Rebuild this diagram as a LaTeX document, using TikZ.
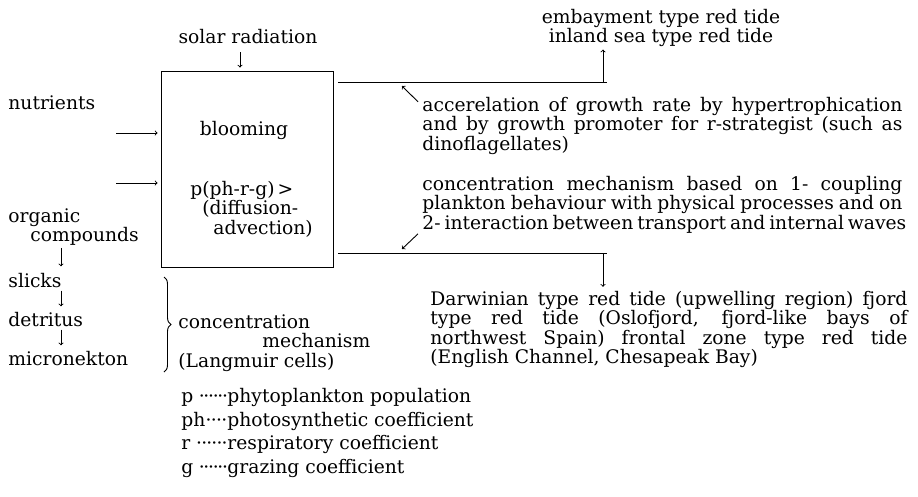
\documentclass[tikz,border=0pt]{standalone}
\usepackage{tikz}
\usepackage{fontspec}
\setmainfont{DejaVu Serif}
\usetikzlibrary{decorations.pathreplacing}
\newcommand{\jline}[2][480pt]{\makebox[#1][s]{#2}}
\newcommand{\legfill}{\xleaders\hbox to 4.5pt{\hss\textperiodcentered\hss}\hfill}
\newcommand{\legline}[2]{\hbox to 46pt{#1\legfill}#2}
\newcommand{\tightlines}{\setlength{\lineskiplimit}{-50pt}}

\begin{document}
\begin{tikzpicture}[x=1pt,y=-1pt,>=to,line width=0.9pt,
  every node/.style={inner sep=0pt,font={\fontsize{18.7}{19.5}\selectfont\tightlines}}]
\useasboundingbox (0,0) rectangle (918,496);
% central box
\node[draw,minimum width=172pt,minimum height=196pt] (box) at (247,169) {};
\node (bloom) at (244,135)[anchor=base]{blooming};
\node (rate) at (190,180.8)[anchor=north west,align=left]{p(ph-r-g)\,>\\\hspace*{12pt}(diffusion-\\\hspace*{23pt}advection)};
% inputs
\node (solar) at (248,43)[anchor=base]{solar radiation};
\coordinate (sr) at (240,52);
\draw[->,shorten >=3pt] (sr) -- (sr |- box.north);
\node (nutr) at (8,109)[anchor=base west]{nutrients};
\node (org) at (8,207.8)[anchor=north west,align=left]{organic\\\hspace*{22pt}compounds};
\coordinate (in1) at (116,133);
\coordinate (in2) at (116,183);
\draw[->,shorten >=3pt] (in1) -- (in1 -| box.west);
\draw[->,shorten >=3pt] (in2) -- (in2 -| box.west);
% left chain
\node (slicks) at (8,287)[anchor=base west]{slicks};
\node (detr) at (8,326)[anchor=base west]{detritus};
\node (micro) at (8,365)[anchor=base west]{micronekton};
\coordinate (lc) at (61,0);
\draw[->,shorten <=2pt,shorten >=6pt] (org.south -| lc) -- (slicks.north -| lc);
\draw[->,shorten <=3pt,shorten >=5pt] (slicks.south -| lc) -- (detr.north -| lc);
\draw[->,shorten <=3pt,shorten >=5pt] (detr.south -| lc) -- (micro.north -| lc);
\draw[decorate,decoration={brace,amplitude=7pt}] (164,277) -- (164,372);
\node (conc) at (178,313.8)[anchor=north west,align=left]{concentration\\\hspace*{84pt}mechanism\\(Langmuir cells)};
% right side
\coordinate (ta) at (338,82);
\coordinate (tb) at (607,82);
\coordinate (ba) at (338,253);
\coordinate (bb) at (607,253);
\coordinate (up) at (603,82);
\coordinate (dn) at (603,253);
\draw (ta) -- (tb);
\draw (ba) -- (bb);
\node (emb) at (661,8.8)[anchor=north,align=center]{embayment type red tide\\inland sea type red tide};
\draw[->,shorten >=2pt] (up) -- (up |- emb.south);
\node (acc) at (422,96.8)[anchor=north west,align=left]{\jline{accerelation of growth rate by hypertrophication}\\\jline{and by growth promoter for r-strategist (such as}\\dinoflagellates)};
\node (mech) at (422,175.8)[anchor=north west,align=left]{\jline{concentration mechanism based on 1- coupling}\\\jline{plankton behaviour with physical processes and on}\\\jline{2- interaction between transport and internal waves}};
\coordinate (acctip) at (402,86);
\coordinate (mechtip) at (402,249);
\draw[->] ([xshift=-4pt,yshift=-5pt]acc.north west) -- (acctip);
\draw[->] ([xshift=-4pt]mech.south west) -- (mechtip);
\node (dar) at (430,290.8)[anchor=north west,align=left]{\jline[477pt]{Darwinian type red tide (upwelling region) fjord}\\\jline[477pt]{type red tide (Oslofjord, fjord-like bays of}\\\jline[477pt]{northwest Spain) frontal zone type red tide}\\(English Channel, Chesapeak Bay)};
\draw[->,shorten >=4pt] (dn) -- (dn |- dar.north);
% legend
\node (leg) at (181,387.8)[anchor=north west,align=left,font={\fontsize{18.7}{23.7}\selectfont\tightlines}]{\legline{p\ }{phytoplankton population}\\\legline{ph}{photosynthetic coefficient}\\\legline{r\ }{respiratory coefficient}\\\legline{g\ }{grazing coefficient}};
\end{tikzpicture}
\end{document}
